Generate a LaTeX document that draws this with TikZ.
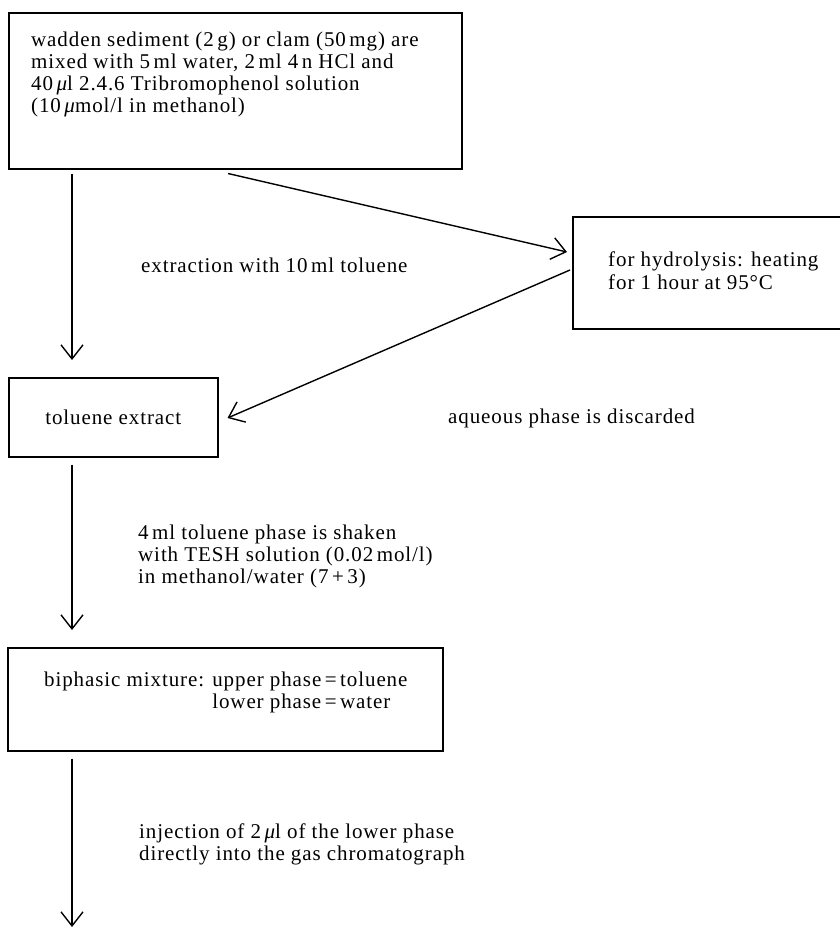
\documentclass[tikz,border=0pt]{standalone}
\usepackage{fontspec}
\setmainfont{Liberation Serif}[LetterSpace=4.3]
\usetikzlibrary{arrows.meta,calc}
\begin{document}
\begin{tikzpicture}[x=1pt,y=-1pt,
  box/.style={draw, line width=1.5pt, rectangle, inner sep=0pt, anchor=north west, font=\fontsize{21}{21.8}\selectfont},
  txt/.style={inner sep=0pt, align=left, font=\fontsize{21}{21.8}\selectfont},
  arr/.style={line width=1.4pt, -{Straight Barb[length=14pt,width=22pt,line width=1.4pt]}}]
\useasboundingbox (0,0) rectangle (839,929);
% boxes
\node[box, minimum width=453pt, minimum height=156pt] (b1) at (8,12) {};
\node[txt, anchor=north west] (t1) at (31,32) {wadden sediment (2\,g) or clam (50\,mg) are\\ mixed with 5\,ml water, 2\,ml 4\,n HCl and\\ 40\,{\itshape μ}l 2.4.6 Tribromophenol solution\\ (10\,{\itshape μ}mol/l in methanol)};
\node[box, minimum width=272pt, minimum height=112pt] (b2) at (572,216) {};
\node[txt, anchor=north west] (t2) at (608,252) {for hydrolysis: heating\\[1pt] for 1 hour at 95°C};
\node[box, minimum width=209pt, minimum height=79pt] (b3) at (8,377) {toluene extract};
\node[box, minimum width=435pt, minimum height=103pt] (b4) at (7,647) {};
\node[txt, anchor=north west] (t4) at (44,671) {\begin{tabular}{@{}r@{}l@{}}biphasic mixture: upper phase & \,=\,toluene\\ lower phase & \,=\,water\end{tabular}};
% labels
\node[txt, anchor=base west] (l1) at (141,272) {extraction with 10\,ml toluene};
\node[txt, anchor=base west] (l2) at (448,423) {aqueous phase is discarded};
\node[txt, anchor=north west] (l3) at (138,525) {4\,ml toluene phase is shaken\\ with TESH solution (0.02\,mol/l)\\ in methanol/water (7\,+\,3)};
\node[txt, anchor=north west] (l4) at (139,824) {injection of 2\,{\itshape μ}l of the lower phase\\ directly into the gas chromatograph};
% connectors
\coordinate (colx) at (72,0);
\coordinate (endpt) at (72,927);
\draw[arr, shorten <=4pt, shorten >=17pt] (b1.south -| colx) -- (b3.north -| colx);
\draw[arr, shorten <=7pt, shorten >=17pt] (b3.south -| colx) -- (b4.north -| colx);
\draw[arr, shorten <=7pt] (b4.south -| colx) -- (endpt);
\draw[arr] ($(b1.south west)+(220,4)$) -- ($(b2.north west)+(-5,36)$);
\draw[arr] ($(b2.north west)+(-2,54)$) -- ($(b3.north east)+(9,41)$);
\end{tikzpicture}
\end{document}
